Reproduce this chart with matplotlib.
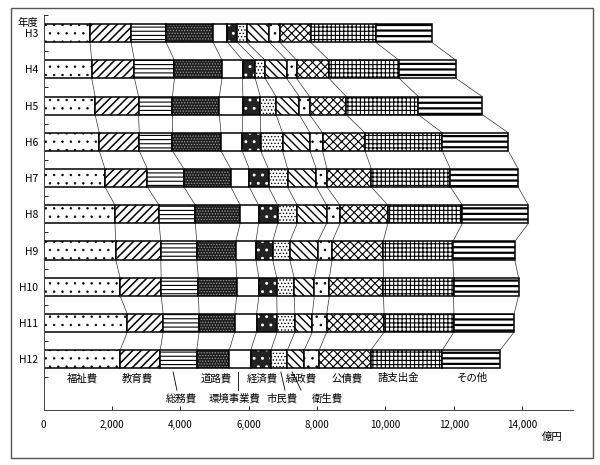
import numpy as np
import matplotlib.pyplot as plt
from matplotlib.patches import Rectangle
from matplotlib.ticker import FuncFormatter

plt.rcParams['font.family'] = ['Noto Sans CJK JP', 'DejaVu Sans']
plt.rcParams['hatch.linewidth'] = 0.7

# 決算額（億円）H3〜H12
years = ['H3', 'H4', 'H5', 'H6', 'H7', 'H8', 'H9', 'H10', 'H11', 'H12']
categories = ['福祉費', '教育費', '総務費', '道路費', '環境事業費', '経済費',
              '市民費', '緑政費', '衛生費', '公債費', '諸支出金', 'その他']

welfare = [1360, 1410, 1510, 1630, 1800, 2090, 2110, 2240, 2450, 2240]
education = [1200, 1250, 1270, 1170, 1240, 1290, 1320, 1200, 1050, 1170]
general = [1020, 1170, 990, 970, 1070, 1060, 1050, 1090, 1050, 1070]
roads = [1380, 1390, 1370, 1420, 1370, 1310, 1140, 1120, 1040, 950]
environment = [420, 600, 690, 620, 540, 540, 590, 650, 640, 630]
economy = [280, 370, 510, 540, 560, 560, 490, 520, 600, 590]
citizens = [280, 290, 460, 640, 560, 570, 500, 510, 520, 480]
greenery = [660, 630, 680, 800, 840, 860, 820, 590, 510, 490]
health = [310, 290, 300, 370, 310, 390, 420, 440, 420, 440]
debt = [900, 950, 1070, 1240, 1300, 1400, 1490, 1580, 1680, 1510]
misc_payments = [1900, 2050, 2110, 2260, 2310, 2180, 2040, 2050, 2040, 2090]
others = [1640, 1660, 1870, 1930, 1980, 1930, 1810, 1900, 1760, 1690]

# label placement under the H12 bar (x in 億円, row 0 = upper, 1 = lower)
label_x = [1140, 2750, 4020, 5040, 5590, 6390, 6970, 7530, 8290, 8890, 10370, 12540]
label_row = [0, 0, 1, 0, 1, 0, 1, 0, 1, 0, 0, 0]
# leader lines for the lower-row labels: (x at bar, x at label)
leaders = {'総務費': (3790, 3900), '環境事業費': (5690, 5690),
           '市民費': (6940, 7060), '衛生費': (7270, 7530)}

series = [welfare, education, general, roads, environment, economy,
          citizens, greenery, health, debt, misc_payments, others]
hatches = ['..', '////', '----', '......', None, '..',
           '.....', '\\\\\\\\', '..', 'xxxx', '++++', '---']
facecolors = ['white', 'white', 'white', '#1e1e1e', 'white', '#222222',
              'white', 'white', 'white', 'white', 'white', 'white']
hatchcolors = ['black', 'black', 'black', '#9a9a9a', 'black', 'white',
               'black', 'black', 'black', 'black', 'black', 'black']
hatch_lw = [0.5, 1.1, 0.8, 0.6, 0.7, 0.9, 0.6, 1.0, 0.6, 0.8, 0.8, 1.6]


def main():
    values = np.array(series, dtype=float)
    cum = np.cumsum(values, axis=0)
    lefts = cum - values
    y = np.arange(len(years))
    h = 0.5

    fig = plt.figure(figsize=(6, 4.65), dpi=100)
    ax = fig.add_axes([43.5 / 600, 1 - 410 / 465, (573 - 43.5) / 600, (410 - 15) / 465])

    for k in range(len(categories)):
        bars = ax.barh(y, values[k], left=lefts[k], height=h, color=facecolors[k],
                       edgecolor=hatchcolors[k], hatch=hatches[k], linewidth=0)
        for b in bars:
            b.set_hatch_linewidth(hatch_lw[k])
        ax.barh(y, values[k], left=lefts[k], height=h, fill=False,
                edgecolor='black', linewidth=1.1)

    # connecting lines between consecutive years
    for i in range(len(years) - 1):
        for k in range(len(categories)):
            ax.plot([cum[k, i], cum[k, i + 1]], [y[i] + h / 2, y[i + 1] - h / 2],
                    color='#333333', linewidth=0.5)

    # category labels under the last bar
    row_y = [9.52, 10.07]
    for name, lx, r in zip(categories, label_x, label_row):
        ax.text(lx, row_y[r], name, ha='center', va='center', fontsize=7.5)
        if name in leaders:
            x0, x1 = leaders[name]
            ax.plot([x0, x1], [y[-1] + h / 2 + 0.1, 9.85], color='black', linewidth=0.6)

    ax.set_xlim(0, (573 - 43.5) * 29.24)
    ax.set_ylim(10.40, -0.468)
    ax.set_xticks(np.arange(0, 14001, 2000))
    ax.xaxis.set_major_formatter(FuncFormatter(lambda v, p: f'{int(v):,}'))
    ax.tick_params(axis='x', direction='in', length=3, width=0.6, pad=7, labelsize=7)
    ax.set_yticks(y)
    ax.set_yticklabels(years)
    ax.set_yticks(np.arange(-0.5, 10.0, 1.0), minor=True)
    ax.tick_params(axis='y', which='major', length=0, pad=4, labelsize=7.5)
    ax.tick_params(axis='y', which='minor', direction='in', length=3, width=0.6)
    for s in ['top', 'right']:
        ax.spines[s].set_visible(False)
    for s in ['left', 'bottom']:
        ax.spines[s].set_linewidth(0.7)
        ax.spines[s].set_color('#444444')

    ax.annotate('年度', xy=(0, -0.28), xycoords=('axes fraction', 'data'),
                xytext=(-4, 0), textcoords='offset points',
                ha='right', va='center', fontsize=7.5)
    fig.text(552 / 600, 1 - 437 / 465, '億円', ha='center', va='center', fontsize=7.5)

    fig.patches.append(Rectangle((11 / 600, 1 - 458 / 465), 582 / 600, 450 / 465,
                                 transform=fig.transFigure, fill=False,
                                 edgecolor='#555555', linewidth=1.0))

    fig.savefig('out.png', dpi=100)


if __name__ == '__main__':
    main()
